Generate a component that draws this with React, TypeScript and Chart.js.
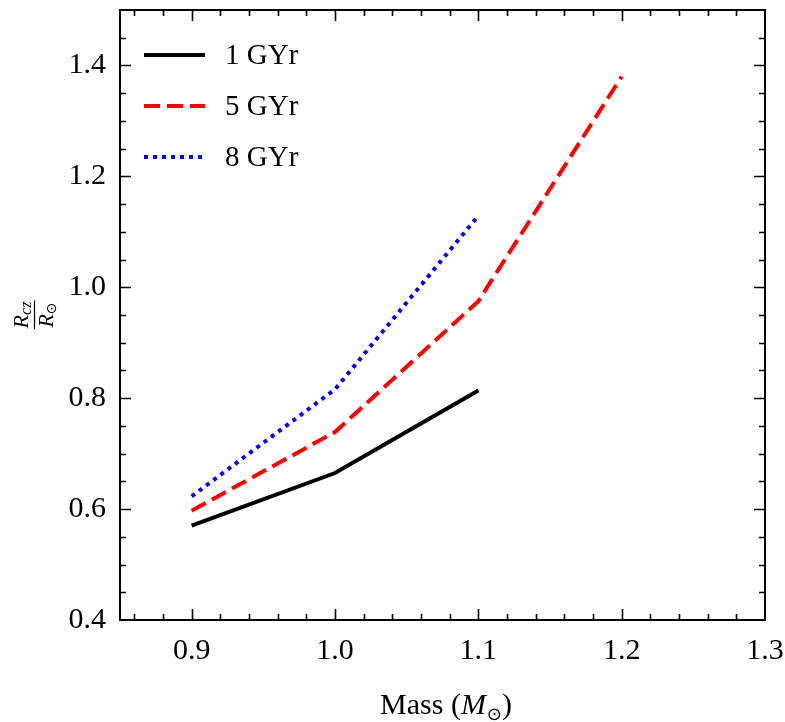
import React, { useEffect, useRef } from "react";
import { Chart, registerables } from "chart.js";

Chart.register(...registerables);

const masses1 = [0.9, 1.0, 1.1];
const rcz1 = [0.57, 0.665, 0.814];
const masses5 = [0.9, 1.0, 1.1, 1.2];
const rcz5 = [0.597, 0.739, 0.975, 1.38];
const masses8 = [0.9, 1.0, 1.1];
const rcz8 = [0.623, 0.816, 1.129];

const seriesLabels = ["1 GYr", "5 GYr", "8 GYr"];
const xTicks = [0.9, 1.0, 1.1, 1.2, 1.3];
const yTicks = [0.4, 0.6, 0.8, 1.0, 1.2, 1.4];

const SERIF = "'Liberation Serif', 'Times New Roman', serif";

const zip = (xs: number[], ys: number[]) => xs.map((x, i) => ({ x, y: ys[i] }));

const framePlugin = {
  id: "framePlugin",
  afterDraw(chart: any) {
    const ctx = chart.ctx as CanvasRenderingContext2D;
    const { left, right, top, bottom } = chart.chartArea;
    const xs = chart.scales.x;
    const ys = chart.scales.y;
    ctx.save();
    ctx.strokeStyle = "#000";
    ctx.lineWidth = 2;
    ctx.strokeRect(left, top, right - left, bottom - top);
    ctx.lineWidth = 1.6;
    ctx.beginPath();
    for (let i = 43; i <= 64; i++) {
      const v = i * 0.02;
      const px = Math.round(xs.getPixelForValue(v)) + 0.5;
      const len = i % 5 === 0 ? 11 : 6;
      ctx.moveTo(px, bottom);
      ctx.lineTo(px, bottom - len);
      ctx.moveTo(px, top);
      ctx.lineTo(px, top + len);
    }
    for (let i = 9; i <= 29; i++) {
      const v = i * 0.05;
      const py = Math.round(ys.getPixelForValue(v)) + 0.5;
      const len = i % 4 === 0 ? 11 : 6;
      ctx.moveTo(left, py);
      ctx.lineTo(left + len, py);
      ctx.moveTo(right, py);
      ctx.lineTo(right - len, py);
    }
    ctx.stroke();

    // legend
    const rowsY = [55, 106, 157];
    chart.data.datasets.forEach((ds: any, i: number) => {
      const y = rowsY[i];
      ctx.save();
      ctx.strokeStyle = ds.borderColor;
      ctx.lineWidth = ds.borderWidth;
      ctx.setLineDash(ds.borderDash || []);
      ctx.beginPath();
      ctx.moveTo(144, y);
      ctx.lineTo(205, y);
      ctx.stroke();
      ctx.restore();
      ctx.fillStyle = "#000";
      ctx.font = `29px ${SERIF}`;
      ctx.textBaseline = "middle";
      ctx.textAlign = "left";
      ctx.fillText(ds.label, 225, y + 1);
    });

    // x title: Mass (M⊙)
    const base = 714;
    const parts = [
      { t: "Mass (", f: `30px ${SERIF}`, dy: 0 },
      { t: "M", f: `italic 30px ${SERIF}`, dy: 0 },
      { t: "\u2299", f: `18px 'DejaVu Sans', ${SERIF}`, dy: 6 },
      { t: ")", f: `30px ${SERIF}`, dy: 0 },
    ];
    let total = 0;
    const widths = parts.map((p) => {
      ctx.font = p.f;
      const w = ctx.measureText(p.t).width;
      total += w;
      return w;
    });
    let x = (left + right) / 2 - total / 2 + 3;
    ctx.textAlign = "left";
    ctx.textBaseline = "alphabetic";
    parts.forEach((p, i) => {
      ctx.font = p.f;
      ctx.fillText(p.t, x, base + p.dy);
      x += widths[i] + (i === 1 ? 1 : 0);
    });

    // y title: fraction R_cz / R_⊙, rotated
    ctx.save();
    ctx.translate(34, (top + bottom) / 2);
    ctx.rotate(-Math.PI / 2);
    const drawSub = (main: string, sub: string, subFont: string, yBase: number) => {
      ctx.font = `italic 22px ${SERIF}`;
      const w1 = ctx.measureText(main).width;
      ctx.font = subFont;
      const w2 = ctx.measureText(sub).width;
      const start = -(w1 + w2) / 2;
      ctx.font = `italic 22px ${SERIF}`;
      ctx.fillText(main, start, yBase);
      ctx.font = subFont;
      ctx.fillText(sub, start + w1, yBase + 3);
      return w1 + w2;
    };
    ctx.textAlign = "left";
    ctx.textBaseline = "alphabetic";
    const wn = drawSub("R", "cz", `italic 16px ${SERIF}`, -6);
    const wd = drawSub("R", "\u2299", `14px 'DejaVu Sans', ${SERIF}`, 19);
    const bw = Math.max(wn, wd) + 2;
    ctx.lineWidth = 1.2;
    ctx.beginPath();
    ctx.moveTo(-bw / 2, 0.5);
    ctx.lineTo(bw / 2, 0.5);
    ctx.stroke();
    ctx.restore();

    ctx.restore();
  },
};

const zeroPad = (s: any) => {
  s.paddingLeft = 0;
  s.paddingRight = 0;
  s.paddingTop = 0;
  s.paddingBottom = 0;
};

export default function App() {
  const ref = useRef<HTMLCanvasElement | null>(null);
  useEffect(() => {
    document.body.style.margin = "0";
    const canvas = ref.current!;
    const chart = new Chart(canvas, {
      type: "line",
      data: {
        datasets: [
          {
            label: seriesLabels[0],
            data: zip(masses1, rcz1),
            borderColor: "#000000",
            borderWidth: 4,
            pointRadius: 0,
            tension: 0,
          },
          {
            label: seriesLabels[1],
            data: zip(masses5, rcz5),
            borderColor: "#ff0000",
            borderWidth: 4,
            borderDash: [16, 7],
            pointRadius: 0,
            tension: 0,
          },
          {
            label: seriesLabels[2],
            data: zip(masses8, rcz8),
            borderColor: "#0000ff",
            borderWidth: 4,
            borderDash: [4, 5],
            pointRadius: 0,
            tension: 0,
          },
        ] as any,
      },
      options: {
        animation: false,
        responsive: false,
        devicePixelRatio: 1,
        layout: { padding: { left: 0, top: 10, right: 20, bottom: 0 } },
        plugins: {
          legend: { display: false },
          tooltip: { enabled: false },
        },
        scales: {
          x: {
            type: "linear",
            min: 0.85,
            max: 1.3,
            grid: { display: false, drawTicks: false },
            border: { display: false },
            afterBuildTicks: (s: any) => {
              s.ticks = xTicks.map((v) => ({ value: v }));
            },
            afterFit: (s: any) => {
              s.height = 102;
              zeroPad(s);
            },
            ticks: {
              padding: 13,
              color: "#000",
              maxRotation: 0,
              autoSkip: false,
              font: { family: SERIF, size: 30 },
              callback: (v: any) => Number(v).toFixed(1),
            },
          },
          y: {
            type: "linear",
            min: 0.4,
            max: 1.5,
            grid: { display: false, drawTicks: false },
            border: { display: false },
            afterBuildTicks: (s: any) => {
              s.ticks = yTicks.map((v) => ({ value: v }));
            },
            afterFit: (s: any) => {
              s.width = 120;
              zeroPad(s);
            },
            ticks: {
              padding: 14,
              color: "#000",
              autoSkip: false,
              font: { family: SERIF, size: 30 },
              callback: (v: any) => Number(v).toFixed(1),
            },
          },
        },
      } as any,
      plugins: [framePlugin],
    });
    return () => chart.destroy();
  }, []);
  return (
    <div style={{ position: "absolute", left: 0, top: 0, width: 785, height: 722, background: "#fff" }}>
      <canvas ref={ref} width={785} height={722} />
    </div>
  );
}
